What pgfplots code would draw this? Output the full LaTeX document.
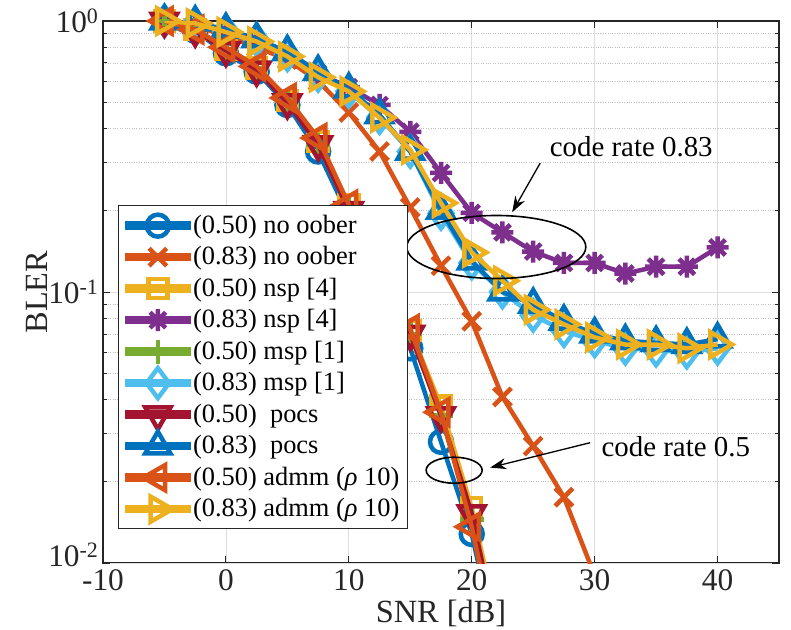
\documentclass[border=0pt]{standalone}
\usepackage{fontspec}
\setmainfont{Liberation Serif}
\usepackage{pgfplots}
\pgfplotsset{compat=1.18}
\usetikzlibrary{arrows.meta}

\definecolor{c1}{rgb}{0,0.447,0.741}
\definecolor{c2}{rgb}{0.850,0.325,0.098}
\definecolor{c3}{rgb}{0.929,0.694,0.125}
\definecolor{c4}{rgb}{0.494,0.184,0.556}
\definecolor{c5}{rgb}{0.466,0.674,0.188}
\definecolor{c6}{rgb}{0.301,0.745,0.933}
\definecolor{c7}{rgb}{0.635,0.078,0.184}
\definecolor{axgray}{rgb}{0.15,0.15,0.15}

\pgfdeclareplotmark{ast8}{%
  \pgfpathmoveto{\pgfqpoint{-\pgfplotmarksize}{0pt}}\pgfpathlineto{\pgfqpoint{\pgfplotmarksize}{0pt}}%
  \pgfpathmoveto{\pgfqpoint{0pt}{-\pgfplotmarksize}}\pgfpathlineto{\pgfqpoint{0pt}{\pgfplotmarksize}}%
  \pgfpathmoveto{\pgfqpointpolar{45}{\pgfplotmarksize}}\pgfpathlineto{\pgfqpointpolar{225}{\pgfplotmarksize}}%
  \pgfpathmoveto{\pgfqpointpolar{135}{\pgfplotmarksize}}\pgfpathlineto{\pgfqpointpolar{315}{\pgfplotmarksize}}%
  \pgfusepathqstroke}

\begin{document}
\begin{tikzpicture}
\begin{axis}[
  scale only axis, width=676bp, height=542bp,
  xmin=-10, xmax=45, ymode=log, ymin=0.01, ymax=1,
  xtick={-10,0,10,20,30,40}, xticklabels={-10,0,10,20,30,40},
  ytick={0.1,1},
  yticklabels={10\textsuperscript{-1},10\textsuperscript{0}},
  extra y ticks={0.01},
  extra y tick labels={10\textsuperscript{-2}},
  extra y tick style={yticklabel style={yshift=8bp}},
  minor ytick={0.02,0.03,0.04,0.05,0.06,0.07,0.08,0.09,0.2,0.3,0.4,0.5,0.6,0.7,0.8,0.9},
  grid=both,
  major grid style={color=black!13, line width=0.8bp},
  minor grid style={color=black!25, dotted, line width=0.9bp},
  tick align=inside, xtick pos=both, ytick pos=both,
  major tick length=7bp, minor tick length=4bp,
  axis line style={color=axgray, line width=1.2bp},
  tick style={color=axgray, line width=1bp},
  ticklabel style={font=\fontsize{31.5}{36}\selectfont, color=axgray},
  xticklabel style={yshift=-6bp, inner ysep=0pt},
  yticklabel style={xshift=-1bp, inner ysep=0pt},
  xlabel={SNR [dB]}, ylabel={BLER},
  label style={font=\fontsize{32.5}{38}\selectfont, color=axgray},
  xlabel style={at={(axis description cs:0.5,-0.093)}, anchor=center, inner ysep=0pt},
  ylabel style={at={(axis description cs:-0.097,0.5)}, anchor=center},
  clip mode=individual,
  every axis plot/.append style={line width=4.5bp},
  legend cell align=left,
  legend image code/.code={%
    \draw[overlay, mark indices={2}] plot coordinates {(0bp,0bp) (31bp,0bp) (62bp,0bp)};
    \path (0bp,-2bp) rectangle (62bp,2bp);},
  legend style={at={(0.0222,0.660)}, anchor=north west,
    draw=axgray, line width=1.2bp, fill=white,
    font=\fontsize{26.5}{31}\selectfont,
    inner xsep=6bp, inner ysep=4bp, row sep=0pt,
    nodes={inner ysep=0pt, inner xsep=2bp, text height=23.5bp, text depth=8bp}},
]
% (0.50) no oober
\addplot[color=c1, mark=o, mark size=11bp, mark indices={1,2,3,4,5,6,7,8,9,10,11}] coordinates {
(-5,1.0) (-2.5,0.92) (0,0.76) (2.5,0.65) (5,0.49) (7.5,0.33) (10,0.19) (12.5,0.11) (15,0.062) (17.5,0.028) (20,0.0128) (22.5,0.004)};
% (0.83) no oober
\addplot[color=c2, mark=x, mark size=12.5bp, mark indices={1,2,3,4,5,6,7,8,9,10,11,12,13,14}] coordinates {
(-5,1.0) (-2.5,0.96) (0,0.88) (2.5,0.80) (5,0.72) (7.5,0.60) (10,0.46) (12.5,0.33) (15,0.205) (17.5,0.125) (20,0.078) (22.5,0.041) (25,0.027) (27.5,0.0175) (30,0.009)};
% (0.50) nsp
\addplot[color=c3, mark=square, mark size=9.5bp, mark indices={1,2,3,4,5,6,7,8,9,10,11}] coordinates {
(-5,1.0) (-2.5,0.93) (0,0.79) (2.5,0.67) (5,0.51) (7.5,0.36) (10,0.21) (12.5,0.125) (15,0.072) (17.5,0.038) (20,0.016) (22.5,0.005)};
% (0.83) nsp
\addplot[color=c4, mark=ast8, mark size=11bp] coordinates {
(-5,1.0) (-2.5,0.97) (0,0.91) (2.5,0.84) (5,0.74) (7.5,0.64) (10,0.57) (12.5,0.49) (15,0.39) (17.5,0.275) (20,0.196) (22.5,0.166) (25,0.141) (27.5,0.128) (30,0.128) (32.5,0.117) (35,0.124) (37.5,0.124) (40,0.146)};
% (0.50) msp
\addplot[color=c5, mark=+, mark size=12bp, mark indices={1,2,3,4,5,6,7,8,9,10,11}] coordinates {
(-5,1.0) (-2.5,0.93) (0,0.79) (2.5,0.67) (5,0.51) (7.5,0.35) (10,0.20) (12.5,0.12) (15,0.07) (17.5,0.035) (20,0.0145) (22.5,0.0045)};
% (0.83) msp
\addplot[color=c6, mark=diamond, mark size=15bp] coordinates {
(-5,1.0) (-2.5,0.98) (0,0.92) (2.5,0.85) (5,0.75) (7.5,0.63) (10,0.55) (12.5,0.44) (15,0.33) (17.5,0.195) (20,0.128) (22.5,0.10) (25,0.082) (27.5,0.072) (30,0.066) (32.5,0.062) (35,0.061) (37.5,0.060) (40,0.062)};
% (0.50) pocs
\addplot[color=c7, mark=triangle, mark size=14.5bp, mark options={rotate=180}, mark indices={1,2,3,4,5,6,7,8,9,10,11}] coordinates {
(-5,1.0) (-2.5,0.92) (0,0.78) (2.5,0.66) (5,0.50) (7.5,0.35) (10,0.20) (12.5,0.12) (15,0.07) (17.5,0.035) (20,0.0152) (22.5,0.0045)};
% (0.83) pocs
\addplot[color=c1, mark=triangle, mark size=14.5bp] coordinates {
(-5,1.0) (-2.5,0.99) (0,0.93) (2.5,0.86) (5,0.77) (7.5,0.65) (10,0.56) (12.5,0.45) (15,0.33) (17.5,0.20) (20,0.13) (22.5,0.10) (25,0.09) (27.5,0.078) (30,0.07) (32.5,0.066) (35,0.065) (37.5,0.064) (40,0.067)};
% (0.50) admm
\addplot[color=c2, mark=triangle, mark size=14.5bp, mark options={rotate=90}, mark indices={1,2,3,4,5,6,7,8,9,10,11}] coordinates {
(-5,1.0) (-2.5,0.93) (0,0.80) (2.5,0.68) (5,0.52) (7.5,0.37) (10,0.21) (12.5,0.125) (15,0.073) (17.5,0.036) (20,0.0136) (22.5,0.004)};
% (0.83) admm
\addplot[color=c3, mark=triangle, mark size=14.5bp, mark options={rotate=-90}] coordinates {
(-5,1.0) (-2.5,0.98) (0,0.91) (2.5,0.84) (5,0.74) (7.5,0.62) (10,0.55) (12.5,0.44) (15,0.335) (17.5,0.213) (20,0.14) (22.5,0.11) (25,0.086) (27.5,0.076) (30,0.068) (32.5,0.064) (35,0.064) (37.5,0.062) (40,0.064)};
\legend{(0.50) no oober,(0.83) no oober,(0.50) nsp [4],(0.83) nsp [4],(0.50) msp [1],(0.83) msp [1],(0.50)\ \ pocs,(0.83)\ \ pocs,(0.50) admm (\textit{ρ} 10),(0.83) admm (\textit{ρ} 10)}

\draw[black, line width=1.6bp] (axis cs:22.0,0.1466) ellipse (89.5bp and 31.5bp);
\draw[black, line width=1.3bp, -{Stealth[length=16bp,width=11bp]}] (axis cs:25.57,0.299) -- (axis cs:23.29,0.197);
\node[font=\fontsize{29}{34}\selectfont, anchor=center] at (axis cs:32.98,0.343) {code rate 0.83};
\draw[black, line width=1.6bp] (axis cs:18.57,0.0220) ellipse (28bp and 13bp);
\draw[black, line width=1.3bp, -{Stealth[length=16bp,width=11bp]}] (axis cs:29.64,0.0278) -- (axis cs:21.5,0.0225);
\node[font=\fontsize{29}{34}\selectfont, anchor=west, inner xsep=0pt] at (axis cs:30.55,0.0268) {code rate 0.5};

\coordinate (sw) at (rel axis cs:0,0);
\coordinate (ne) at (rel axis cs:1,1);
\end{axis}
\pgfresetboundingbox
\path[use as bounding box] ([shift={(-103bp,-66bp)}]sw) rectangle ([shift={(12bp,21bp)}]ne);
\end{tikzpicture}
\end{document}
